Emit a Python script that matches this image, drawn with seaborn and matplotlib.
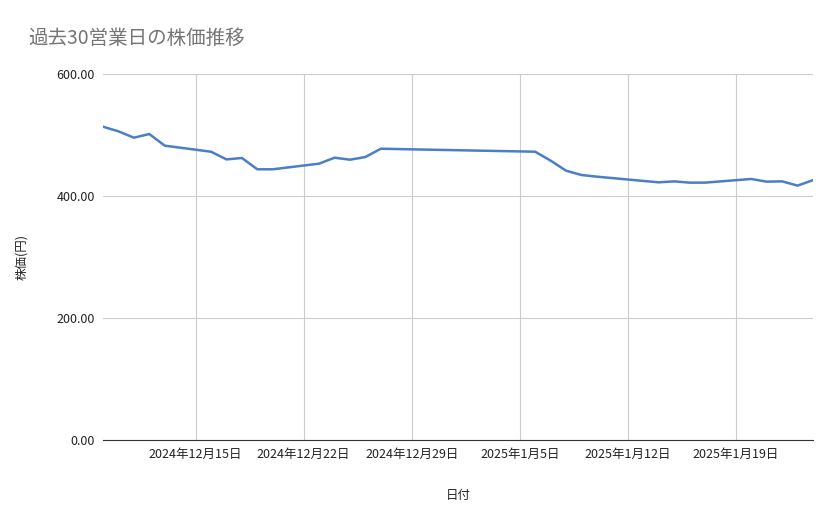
import matplotlib
matplotlib.use("Agg")
import matplotlib.pyplot as plt
import matplotlib.dates as mdates
import seaborn as sns
import pandas as pd

dates = ["2024-12-09", "2024-12-10", "2024-12-11", "2024-12-12", "2024-12-13",
         "2024-12-16", "2024-12-17", "2024-12-18", "2024-12-19", "2024-12-20",
         "2024-12-23", "2024-12-24", "2024-12-25", "2024-12-26", "2024-12-27",
         "2024-12-30", "2025-01-06", "2025-01-07", "2025-01-08", "2025-01-09",
         "2025-01-10", "2025-01-14", "2025-01-15", "2025-01-16", "2025-01-17",
         "2025-01-20", "2025-01-21", "2025-01-22", "2025-01-23", "2025-01-24"]
prices = [513.6, 506.0, 495.6, 501.6, 482.5,
          472.6, 460.0, 462.3, 443.8, 443.8,
          453.0, 462.8, 459.5, 463.9, 477.5,
          476.0, 472.6, 458.0, 441.5, 434.4,
          431.7, 422.4, 424.0, 421.9, 421.9,
          427.9, 423.5, 424.0, 417.0, 426.0]
tick_dates = ["2024-12-15", "2024-12-22", "2024-12-29", "2025-01-05", "2025-01-12", "2025-01-19"]
tick_labels = ["2024年12月15日", "2024年12月22日", "2024年12月29日", "2025年1月5日", "2025年1月12日", "2025年1月19日"]

df = pd.DataFrame({"date": pd.to_datetime(dates), "price": prices})

sns.set_style("white")
plt.rcParams["font.family"] = ["Noto Sans CJK JP", "DejaVu Sans"]

fig = plt.figure(figsize=(8.39, 5.19), dpi=100)
ax = fig.add_axes([103 / 839, 1 - 440 / 519, 710 / 839, 366 / 519])
sns.lineplot(data=df, x="date", y="price", ax=ax, color="#4a7fc8", linewidth=1.8)

ax.set_xlim(pd.Timestamp("2024-12-09"), pd.Timestamp("2025-01-24"))
ax.set_ylim(0, 600)
ax.set_yticks([0, 200, 400, 600])
ax.set_yticklabels([f"{v:.2f}" for v in [0, 200, 400, 600]])
ax.set_xticks(pd.to_datetime(tick_dates))
ax.set_xticklabels(tick_labels)
ax.tick_params(length=0, labelsize=9, colors="#222222", pad=6)
ax.grid(True, color="#cccccc", linewidth=0.8)
for s in ["top", "right", "left"]:
    ax.spines[s].set_visible(False)
ax.spines["bottom"].set_color("#333333")
ax.set_xlabel("日付", fontsize=9, labelpad=20)
ax.set_ylabel("株価(円)", fontsize=9, labelpad=20)
fig.text(28 / 839, 1 - 38 / 519, "過去30営業日の株価推移", fontsize=14, color="#757575", va="center")

fig.savefig("out.png", dpi=100)
